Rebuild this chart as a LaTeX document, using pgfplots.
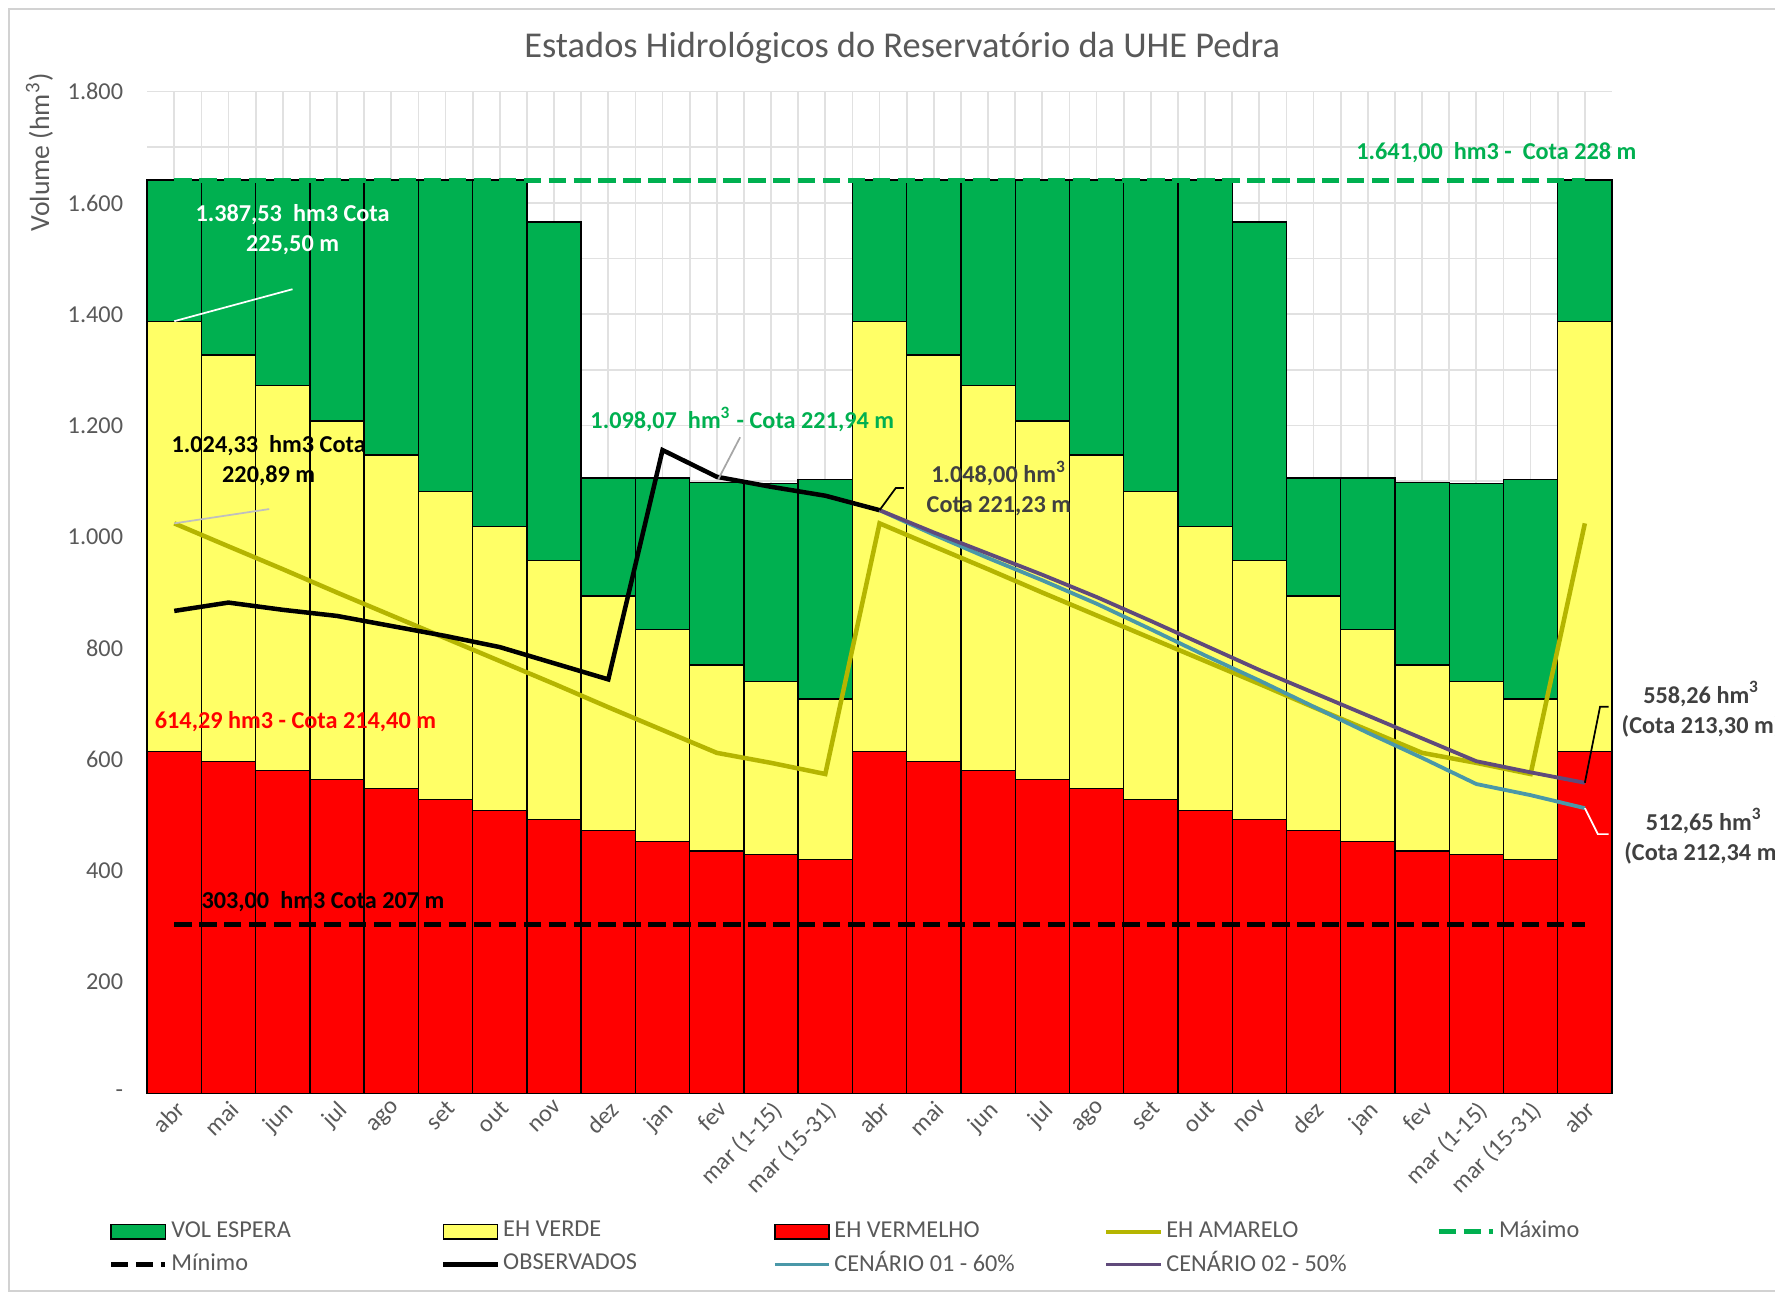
\documentclass[border=0pt]{standalone}
\usepackage{pgfplots}
\pgfplotsset{compat=1.18}
\usepackage{pgfplotstable}
\usepackage{fontspec}
\setmainfont{Carlito}

\definecolor{espera}{RGB}{0,176,80}
\definecolor{verde}{RGB}{255,255,102}
\definecolor{vermelho}{RGB}{255,0,0}
\definecolor{amarelo}{RGB}{181,181,0}
\definecolor{cen1}{RGB}{74,152,168}
\definecolor{cen2}{RGB}{96,74,123}
\definecolor{txtgray}{RGB}{89,89,89}
\definecolor{darktxt}{RGB}{64,64,64}
\definecolor{gridgray}{RGB}{225,225,225}

\pgfplotsset{
  boxleg/.style={legend image code/.code={\draw[##1] (0cm,-0.075cm) rectangle (0.55cm,0.075cm);}},
  lineleg/.style={legend image code/.code={\draw[##1] (0cm,0cm) -- (0.55cm,0cm);}},
}

% bar tops: VOL ESPERA, EH VERDE, EH VERMELHO
\pgfplotstableread{
x   esp      verde    verm
0   1641     1387.53  614.29
1   1641     1327     597
2   1641     1272     580
3   1641     1208     564
4   1641     1147     548
5   1641     1082     528
6   1641     1019     509
7   1566     958      492
8   1106     894      473
9   1106     834      453
10  1098.07  770      436
11  1096     740      429
12  1103     709      420
13  1641     1387.53  614.29
14  1641     1327     597
15  1641     1272     580
16  1641     1208     564
17  1641     1147     548
18  1641     1082     528
19  1641     1019     509
20  1566     958      492
21  1106     894      473
22  1106     834      453
23  1098.07  770      436
24  1096     740      429
25  1103     709      420
26  1641     1387.53  614.29
}\bars

\newcommand{\ann}{\bfseries\fontsize{7}{8.7}\selectfont}

\begin{document}
\begin{tikzpicture}
\draw[gray!35, line width=0.6pt] (0.092cm,0.05cm) rectangle (18.6cm,13.05cm);

\begin{axis}[
    at={(1.492cm,2.055cm)}, anchor=south west,
    scale only axis, width=14.855cm, height=10.16cm,
    xmin=-0.5, xmax=26.5, ymin=0, ymax=1800,
    xtick={0,...,26},
    xticklabels={abr,mai,jun,jul,ago,set,out,nov,dez,jan,fev,mar (1-15),mar (15-31),
                 abr,mai,jun,jul,ago,set,out,nov,dez,jan,fev,mar (1-15),mar (15-31),abr},
    ytick={0,200,...,1800},
    yticklabels={\mbox{-},\mbox{200},\mbox{400},\mbox{600},\mbox{800},\mbox{1.000},\mbox{1.200},\mbox{1.400},\mbox{1.600},\mbox{1.800}},
    minor x tick num=1, minor y tick num=1,
    grid=both,
    major grid style={draw=gridgray, line width=0.5pt},
    minor grid style={draw=gridgray, line width=0.5pt},
    axis line style={draw=none},
    major tick length=0pt, minor tick length=0pt,
    tick label style={font=\fontsize{7}{8}\selectfont, text=txtgray},
    xticklabel style={rotate=45, anchor=north east, inner sep=1pt},
    yticklabel style={xshift=-0.12cm},
    clip=false,
    legend columns=5,
    legend cell align=left,
    legend style={at={(-0.034,-0.116)}, anchor=north west, draw=none, fill=none,
        font=\fontsize{7}{8}\selectfont, text=txtgray, nodes={inner sep=1pt}, row sep=0.6pt},
]

\addplot[ybar, bar width=1, bar shift=0pt, fill=espera, draw=black, line width=0.4pt, boxleg]
    table[x=x, y=esp] {\bars};
\addlegendentry{\makebox[2.7cm][l]{VOL ESPERA}}
\addplot[ybar, bar width=1, bar shift=0pt, fill=verde, draw=black, line width=0.4pt, boxleg]
    table[x=x, y=verde] {\bars};
\addlegendentry{\makebox[2.7cm][l]{EH VERDE}}
\addplot[ybar, bar width=1, bar shift=0pt, fill=vermelho, draw=black, line width=0.4pt, boxleg]
    table[x=x, y=verm] {\bars};
\addlegendentry{\makebox[2.7cm][l]{EH VERMELHO}}

% EH AMARELO
\addplot[amarelo, line width=1.3pt, sharp plot, lineleg]
    coordinates {(0,1024.33) (1,983) (2,942) (3,900) (4,859) (5,818) (6,777) (7,736)
    (8,694) (9,653) (10,612) (11,594) (12,574) (13,1024.33) (14,983) (15,942) (16,900)
    (17,859) (18,818) (19,777) (20,736) (21,694) (22,653) (23,612) (24,594) (25,574) (26,1024.33)};
\addlegendentry{\makebox[2.7cm][l]{EH AMARELO}}

% Maximo / Minimo
\addplot[espera, line width=1.5pt, dash pattern=on 5pt off 2.2pt, lineleg]
    coordinates {(0,1641) (26,1641)};
\addlegendentry{Máximo}
\addplot[black, line width=1.5pt, dash pattern=on 5pt off 2.2pt, lineleg]
    coordinates {(0,303) (26,303)};
\addlegendentry{\makebox[2.7cm][l]{Mínimo}}

% OBSERVADOS
\addplot[black, line width=1.3pt, sharp plot, lineleg]
    coordinates {(0,867) (1,882) (2,869) (3,858) (4,840) (5,822) (6,802) (7,773)
    (8,744) (9,1156) (10,1108) (11,1090) (12,1074) (13,1048)};
\addlegendentry{\makebox[2.7cm][l]{OBSERVADOS}}

% CENARIO 01 - 60%
\addplot[cen1, line width=1.1pt, sharp plot, lineleg]
    coordinates {(13,1048) (14,1004) (15,962) (16,922) (17,880) (18,834) (19,787)
    (20,742) (21,695) (22,648) (23,603) (24,556) (25,536) (26,512.65)};
\addlegendentry{\makebox[2.7cm][l]{CENÁRIO 01 - 60\%}}

% CENARIO 02 - 50%
\addplot[cen2, line width=1.1pt, sharp plot, lineleg]
    coordinates {(13,1048) (14,1008) (15,970) (16,932) (17,892) (18,849) (19,805)
    (20,761) (21,720) (22,679) (23,638) (24,597) (25,577) (26,558.26)};
\addlegendentry{\makebox[2.7cm][l]{CENÁRIO 02 - 50\%}}

% annotations
\node[font=\ann, text=espera] at (axis cs:24.37,1690) {1.641,00\ \ hm3 -\ \ Cota 228 m};
\draw[white, line width=0.5pt] (axis cs:0,1387.53) -- (axis cs:2.18,1445);
\node[font=\ann, text=white, align=center] at (axis cs:2.18,1552) {1.387,53\ \ hm3 Cota\\225,50 m};
\draw[gray!50, line width=0.5pt] (axis cs:0,1024.33) -- (axis cs:1.75,1050);
\node[font=\ann, text=black, align=center] at (axis cs:1.74,1137) {1.024,33\ \ hm3 Cota\\220,89 m};
\draw[gray!70, line width=0.5pt] (axis cs:10.43,1179) -- (axis cs:10.03,1104);
\node[font=\ann, text=espera] at (axis cs:10.47,1211) {1.098,07\ \ hm\textsuperscript{3} - Cota 221,94 m};
\draw[black, line width=0.5pt] (axis cs:13,1048) -- (axis cs:13.3,1088) -- (axis cs:13.45,1088);
\node[font=\ann, text=darktxt, align=center] at (axis cs:15.2,1087) {1.048,00 hm\textsuperscript{3}\\Cota 221,23 m};
\node[font=\ann, text=vermelho, anchor=west, inner sep=0pt] at (axis cs:-0.37,669) {614,29 hm3 - Cota 214,40 m};
\node[font=\ann, text=black, anchor=west, inner sep=0pt] at (axis cs:0.49,344) {303,00\ \ hm3 Cota 207 m};
\draw[black, line width=0.5pt] (axis cs:26,558.26) -- (axis cs:26.28,695) -- (axis cs:26.44,695);
\node[font=\ann, text=darktxt, align=center] at (axis cs:28.15,690) {558,26 hm\textsuperscript{3}\\(Cota 213,30 m)};
\draw[white, line width=0.5pt] (axis cs:26,512.65) -- (axis cs:26.24,466) -- (axis cs:26.44,466);
\node[font=\ann, text=darktxt, align=center] at (axis cs:28.2,462) {512,65 hm\textsuperscript{3}\\(Cota 212,34 m)};
\end{axis}

\node[font=\fontsize{10.5}{12}\selectfont, text=txtgray] at (9.15cm,12.66cm)
    {Estados Hidrológicos do Reservatório da UHE Pedra};
\node[font=\fontsize{8}{10}\selectfont, text=txtgray, rotate=90] at (0.40cm,11.60cm)
    {Volume (hm\textsuperscript{3})};

\pgfresetboundingbox
\useasboundingbox (0,0) rectangle (18cm,13.144cm);
\end{tikzpicture}
\end{document}
